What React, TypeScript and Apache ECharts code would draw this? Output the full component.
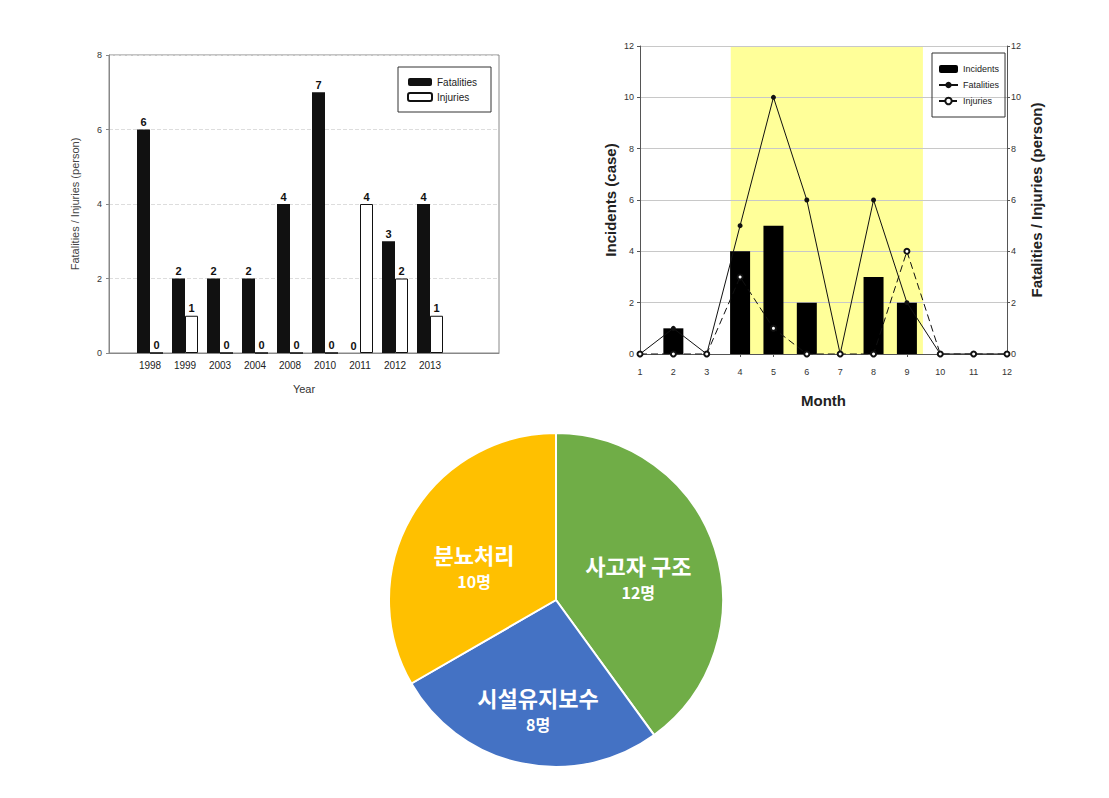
import React, { useEffect, useRef } from "react";
import * as echarts from "echarts";

// ---- Left chart: by year ----
const years = ["1998", "1999", "2003", "2004", "2008", "2010", "2011", "2012", "2013"];
const yearFatalities = [6, 2, 2, 2, 4, 7, 0, 3, 4];
const yearInjuries = [0, 1, 0, 0, 0, 0, 4, 2, 1];

// ---- Right chart: by month ----
const months = [1, 2, 3, 4, 5, 6, 7, 8, 9, 10, 11, 12];
const monthIncidents = [0, 1, 0, 4, 5, 2, 0, 3, 2, 0, 0, 0];
const monthFatalities = [0, 1, 0, 5, 10, 6, 0, 6, 2, 0, 0, 0];
const monthInjuries = [0, 0, 0, 3, 1, 0, 0, 0, 4, 0, 0, 0];
const peakSeason = [3.72, 9.48];

// ---- Pie ----
const pieNames = ["사고자 구조", "시설유지보수", "분뇨처리"];
const pieValues = [12, 8, 10];
const pieColors = ["#70AD47", "#4472C4", "#FFC000"];
const pieLabelPads = [
  [6, 0, 0, 0],
  [46, 0, 0, 0],
  [16, 14, 0, 0],
];

const FONT = "'Liberation Sans', Arial, sans-serif";
const NARROW = "'Liberation Sans Narrow', 'Liberation Sans', Arial, sans-serif";
const CJK = "'Noto Sans CJK KR', 'Noto Sans', sans-serif";

export default function App() {
  const ref = useRef<HTMLDivElement>(null);

  useEffect(() => {
    if (!ref.current) return;
    const chart = echarts.init(ref.current, undefined, { renderer: "svg" });

    const legendNameMap: Record<string, string> = {
      Incidents: "Incidents",
      "Monthly Fatalities": "Fatalities",
      "Monthly Injuries": "Injuries",
    };

    const option: any = {
      animation: false,
      backgroundColor: "#ffffff",
      textStyle: { fontFamily: FONT },
      legend: [
        {
          left: 398,
          top: 67,
          orient: "vertical",
          data: ["Fatalities", "Injuries"],
          itemWidth: 24,
          itemHeight: 8,
          itemGap: 3,
          padding: [9, 14, 9, 9],
          borderColor: "#333",
          borderWidth: 1,
          selectedMode: false,
          textStyle: { fontSize: 10, color: "#222", lineHeight: 12, fontFamily: FONT },
        },
        {
          left: 932,
          top: 53,
          orient: "vertical",
          data: ["Incidents", "Monthly Fatalities", "Monthly Injuries"],
          formatter: (n: string) => legendNameMap[n] || n,
          itemWidth: 19,
          itemHeight: 8,
          itemGap: 4,
          padding: [10, 6, 10, 6],
          borderColor: "#333",
          borderWidth: 1,
          selectedMode: false,
          textStyle: { fontSize: 9, color: "#222", lineHeight: 12, fontFamily: NARROW },
        },
      ],
      grid: [
        { left: 109, top: 55, width: 390, height: 298, show: true, borderColor: "#888", borderWidth: 1 },
        { left: 132.5, top: 55, width: 315, height: 298 },
        { left: 640, top: 46, width: 367, height: 308 },
      ],
      xAxis: [
        {
          gridIndex: 0,
          type: "value",
          min: 0,
          max: 1,
          axisLine: { show: true, lineStyle: { color: "#888" } },
          axisTick: { show: false },
          axisLabel: { show: false },
          splitLine: { show: false },
          name: "Year",
          nameLocation: "middle",
          nameGap: 30,
          nameTextStyle: { fontSize: 11, color: "#333", fontFamily: FONT },
        },
        {
          gridIndex: 1,
          type: "category",
          data: years,
          axisLine: { show: false },
          axisTick: { show: false },
          axisLabel: { fontSize: 10, color: "#222", margin: 7, fontFamily: FONT },
        },
        {
          gridIndex: 2,
          type: "value",
          min: 1,
          max: 12,
          interval: 1,
          z: 1,
          axisLine: { show: true, lineStyle: { color: "#555" } },
          axisTick: { show: true, length: 3, lineStyle: { color: "#555" } },
          axisLabel: { fontSize: 9, color: "#333", margin: 13, fontFamily: NARROW },
          splitLine: { show: false },
          name: "Month",
          nameLocation: "middle",
          nameGap: 39,
          nameTextStyle: { fontSize: 15, fontWeight: "bold", color: "#222", fontFamily: NARROW },
        },
      ],
      yAxis: [
        {
          gridIndex: 0,
          type: "value",
          min: 0,
          max: 8,
          interval: 2,
          axisLine: { show: true, lineStyle: { color: "#888" } },
          axisTick: { show: true, length: 3, lineStyle: { color: "#888" } },
          axisLabel: { fontSize: 9, color: "#333", margin: 7, fontFamily: FONT },
          splitLine: { show: true, lineStyle: { color: "#ddd", type: "dashed" } },
          name: "Fatalities / Injuries (person)",
          nameLocation: "middle",
          nameGap: 29,
          nameRotate: 90,
          nameTextStyle: { fontSize: 11, color: "#444", fontFamily: FONT },
        },
        { gridIndex: 1, type: "value", min: 0, max: 8, show: false },
        {
          gridIndex: 2,
          type: "value",
          position: "left",
          min: 0,
          max: 12,
          interval: 2,
          z: 1,
          axisLine: { show: true, lineStyle: { color: "#555" } },
          axisTick: { show: true, length: 3, lineStyle: { color: "#555" } },
          axisLabel: { fontSize: 9, color: "#333", margin: 6, fontFamily: NARROW },
          splitLine: { show: true, lineStyle: { color: "#c8c8c8" } },
          name: "Incidents (case)",
          nameLocation: "middle",
          nameGap: 22,
          nameRotate: 90,
          nameTextStyle: { fontSize: 15, fontWeight: "bold", color: "#222", fontFamily: FONT },
        },
        {
          gridIndex: 2,
          type: "value",
          position: "right",
          min: 0,
          max: 12,
          interval: 2,
          z: 1,
          axisLine: { show: true, lineStyle: { color: "#555" } },
          axisTick: { show: true, length: 3, lineStyle: { color: "#555" } },
          axisLabel: { fontSize: 9, color: "#333", margin: 4, fontFamily: NARROW },
          splitLine: { show: false },
          name: "Fatalities / Injuries (person)",
          nameLocation: "middle",
          nameGap: 22,
          nameRotate: 90,
          nameTextStyle: { fontSize: 15, fontWeight: "bold", color: "#222", fontFamily: FONT },
        },
      ],
      series: [
        {
          name: "Fatalities",
          type: "bar",
          xAxisIndex: 1,
          yAxisIndex: 1,
          data: yearFatalities,
          barWidth: 13,
          barGap: "0%",
          itemStyle: { color: "#111" },
          label: { show: true, position: "top", distance: 2, fontSize: 11, fontWeight: "bold", color: "#111" },
        },
        {
          name: "Injuries",
          type: "bar",
          xAxisIndex: 1,
          yAxisIndex: 1,
          data: yearInjuries,
          barWidth: 13,
          barGap: "0%",
          itemStyle: { color: "#fff", borderColor: "#111", borderWidth: 1 },
          label: { show: true, position: "top", distance: 2, fontSize: 11, fontWeight: "bold", color: "#111" },
        },
        {
          name: "Incidents",
          type: "bar",
          xAxisIndex: 2,
          yAxisIndex: 2,
          data: months.map((m, i) => [m, monthIncidents[i]]),
          barWidth: 20,
          itemStyle: { color: "#000" },
          markArea: {
            silent: true,
            z: 0,
            itemStyle: { color: "#FFFF99" },
            data: [[{ xAxis: peakSeason[0] }, { xAxis: peakSeason[1] }]],
          },
        },
        {
          name: "Monthly Fatalities",
          type: "line",
          xAxisIndex: 2,
          yAxisIndex: 3,
          z: 3,
          data: months.map((m, i) => [m, monthFatalities[i]]),
          symbol: "circle",
          symbolSize: 5,
          lineStyle: { color: "#111", width: 1 },
          itemStyle: { color: "#111" },
        },
        {
          name: "Monthly Injuries",
          type: "line",
          xAxisIndex: 2,
          yAxisIndex: 3,
          z: 4,
          data: months.map((m, i) => [m, monthInjuries[i]]),
          symbol: "emptyCircle",
          symbolSize: 5,
          lineStyle: { color: "#111", width: 1, type: [7, 4] },
          itemStyle: { color: "#111", borderColor: "#111", borderWidth: 1 },
        },
        {
          name: "pie",
          type: "pie",
          center: [556, 600],
          radius: 167,
          startAngle: 90,
          clockwise: true,
          labelLine: { show: false },
          itemStyle: { borderColor: "#fff", borderWidth: 2 },
          label: {
            show: true,
            position: "inside",
            formatter: (p: any) => `{n|${p.name}}\n{v|${p.value}명}`,
            rich: {
              n: { fontSize: 22, fontWeight: "bold", color: "#fff", lineHeight: 32, fontFamily: CJK },
              v: { fontSize: 16, fontWeight: "bold", color: "#fff", lineHeight: 22, fontFamily: CJK },
            },
          },
          data: pieNames.map((n, i) => ({
            name: n,
            value: pieValues[i],
            itemStyle: { color: pieColors[i] },
            label: { padding: pieLabelPads[i] },
          })),
        },
      ],
    };

    chart.setOption(option);
    return () => chart.dispose();
  }, []);

  return (
    <div
      ref={ref}
      style={{ position: "absolute", left: 0, top: 0, width: 1109, height: 798, background: "#fff" }}
    />
  );
}
